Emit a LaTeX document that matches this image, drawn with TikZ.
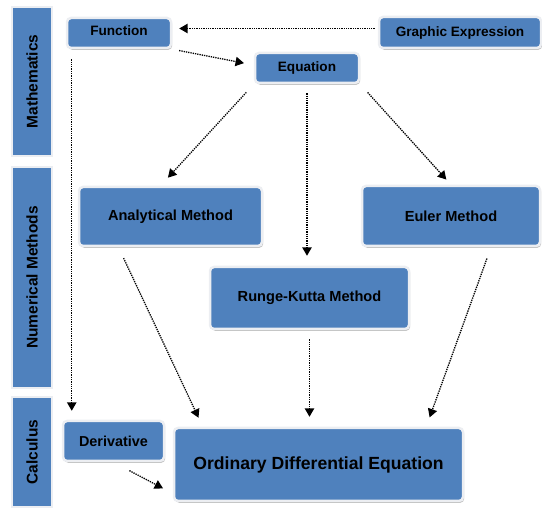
\documentclass[tikz,border=0pt]{standalone}
\usepackage{fontspec}
\setsansfont{Liberation Sans}
\usepackage{tikz}
\usetikzlibrary{arrows,shadows,positioning}

\definecolor{boxblue}{RGB}{79,129,189}
\definecolor{rimgrey}{RGB}{236,238,242}

\tikzset{
  box/.style={rectangle, rounded corners=4pt, fill=boxblue, draw=rimgrey,
    line width=2.5pt, inner sep=0pt, align=center,
    font=\sffamily\bfseries\fontsize{13.6}{16}\selectfont,
    drop shadow={shadow xshift=1.2pt, shadow yshift=-1.8pt, fill=black!35, opacity=0.7}},
  bar/.style={rectangle, fill=boxblue, draw=rimgrey, line width=2.5pt,
    inner sep=0pt, rotate=90, font=\sffamily\bfseries\fontsize{15.5}{18}\selectfont},
  flow/.style={->, densely dotted, line width=1.3pt, black}
}

\begin{document}
\begin{tikzpicture}[>=triangle 60, x=1pt, y=-1pt]
  \useasboundingbox (0,0) rectangle (542,508);

  % side bars
  \node[bar, minimum width=149pt, minimum height=40pt] (math) at (32,81.5) {Mathematics};
  \node[bar, minimum width=221pt, minimum height=40pt] (num) at (32,277.5) {Numerical Methods};
  \node[bar, minimum width=110pt, minimum height=40pt] (calc) at (32,452) {Calculus};

  % boxes
  \node[box, minimum width=104pt, minimum height=30pt, text depth=5pt] (func) at (119,33) {Function};
  \node[box, minimum width=162pt, minimum height=31pt] (graph) at (460,32.5) {Graphic Expression};
  \node[box, minimum width=104pt, minimum height=30pt] (equ) at (307,68) {Equation};
  \node[box, minimum width=183pt, minimum height=59pt, font=\sffamily\bfseries\fontsize{14.6}{17}\selectfont] (ana) at (170.5,216.5) {Analytical Method};
  \node[box, minimum width=199pt, minimum height=62pt, font=\sffamily\bfseries\fontsize{14.6}{17}\selectfont] (rk) at (309.5,298) {Runge-Kutta Method};
  \node[box, minimum width=178pt, minimum height=60pt, font=\sffamily\bfseries\fontsize{14.6}{17}\selectfont] (euler) at (451,216) {Euler Method};
  \node[box, minimum width=101pt, minimum height=40pt, font=\sffamily\bfseries\fontsize{14.4}{17}\selectfont] (deriv) at (113.5,441) {Derivative};
  \node[box, minimum width=289pt, minimum height=73pt, font=\sffamily\bfseries\fontsize{17.6}{20}\selectfont] (ode) at (318.5,464.5) {Ordinary Differential Equation};

  % connectors
  \draw[flow, shorten <=3pt, shorten >=7pt] ([yshift=4pt]graph.west) -- ([yshift=4pt]graph.west -| func.east);
  \draw[flow, shorten <=7pt, shorten >=10pt] (func.south east) -- ([yshift=3pt]equ.west);
  \draw[flow, shorten <=10pt, shorten >=9pt] ([xshift=6pt]func.south west) -- ([xshift=6pt]func.south west |- deriv.north);
  \draw[flow, shorten <=11pt, shorten >=11pt] (equ.south west) -- ([xshift=-10pt]ana.north);
  \draw[flow, shorten <=9pt, shorten >=10pt] (equ.south) -- (equ.south |- rk.north);
  \draw[flow, shorten <=11pt, shorten >=7pt] (equ.south east) -- (euler.north);
  \draw[flow, shorten <=12pt, shorten >=10pt] ([xshift=-52pt]ana.south) -- ([xshift=30pt]ode.north west);
  \draw[flow, shorten <=9pt, shorten >=10pt] (rk.south) -- (rk.south |- ode.north);
  \draw[flow, shorten <=12pt, shorten >=10pt] ([xshift=40pt]euler.south) -- ([xshift=-38pt]ode.north east);
  \draw[flow, shorten <=18pt, shorten >=11pt] (deriv.south) -- ([yshift=-29pt]ode.west);
\end{tikzpicture}
\end{document}
